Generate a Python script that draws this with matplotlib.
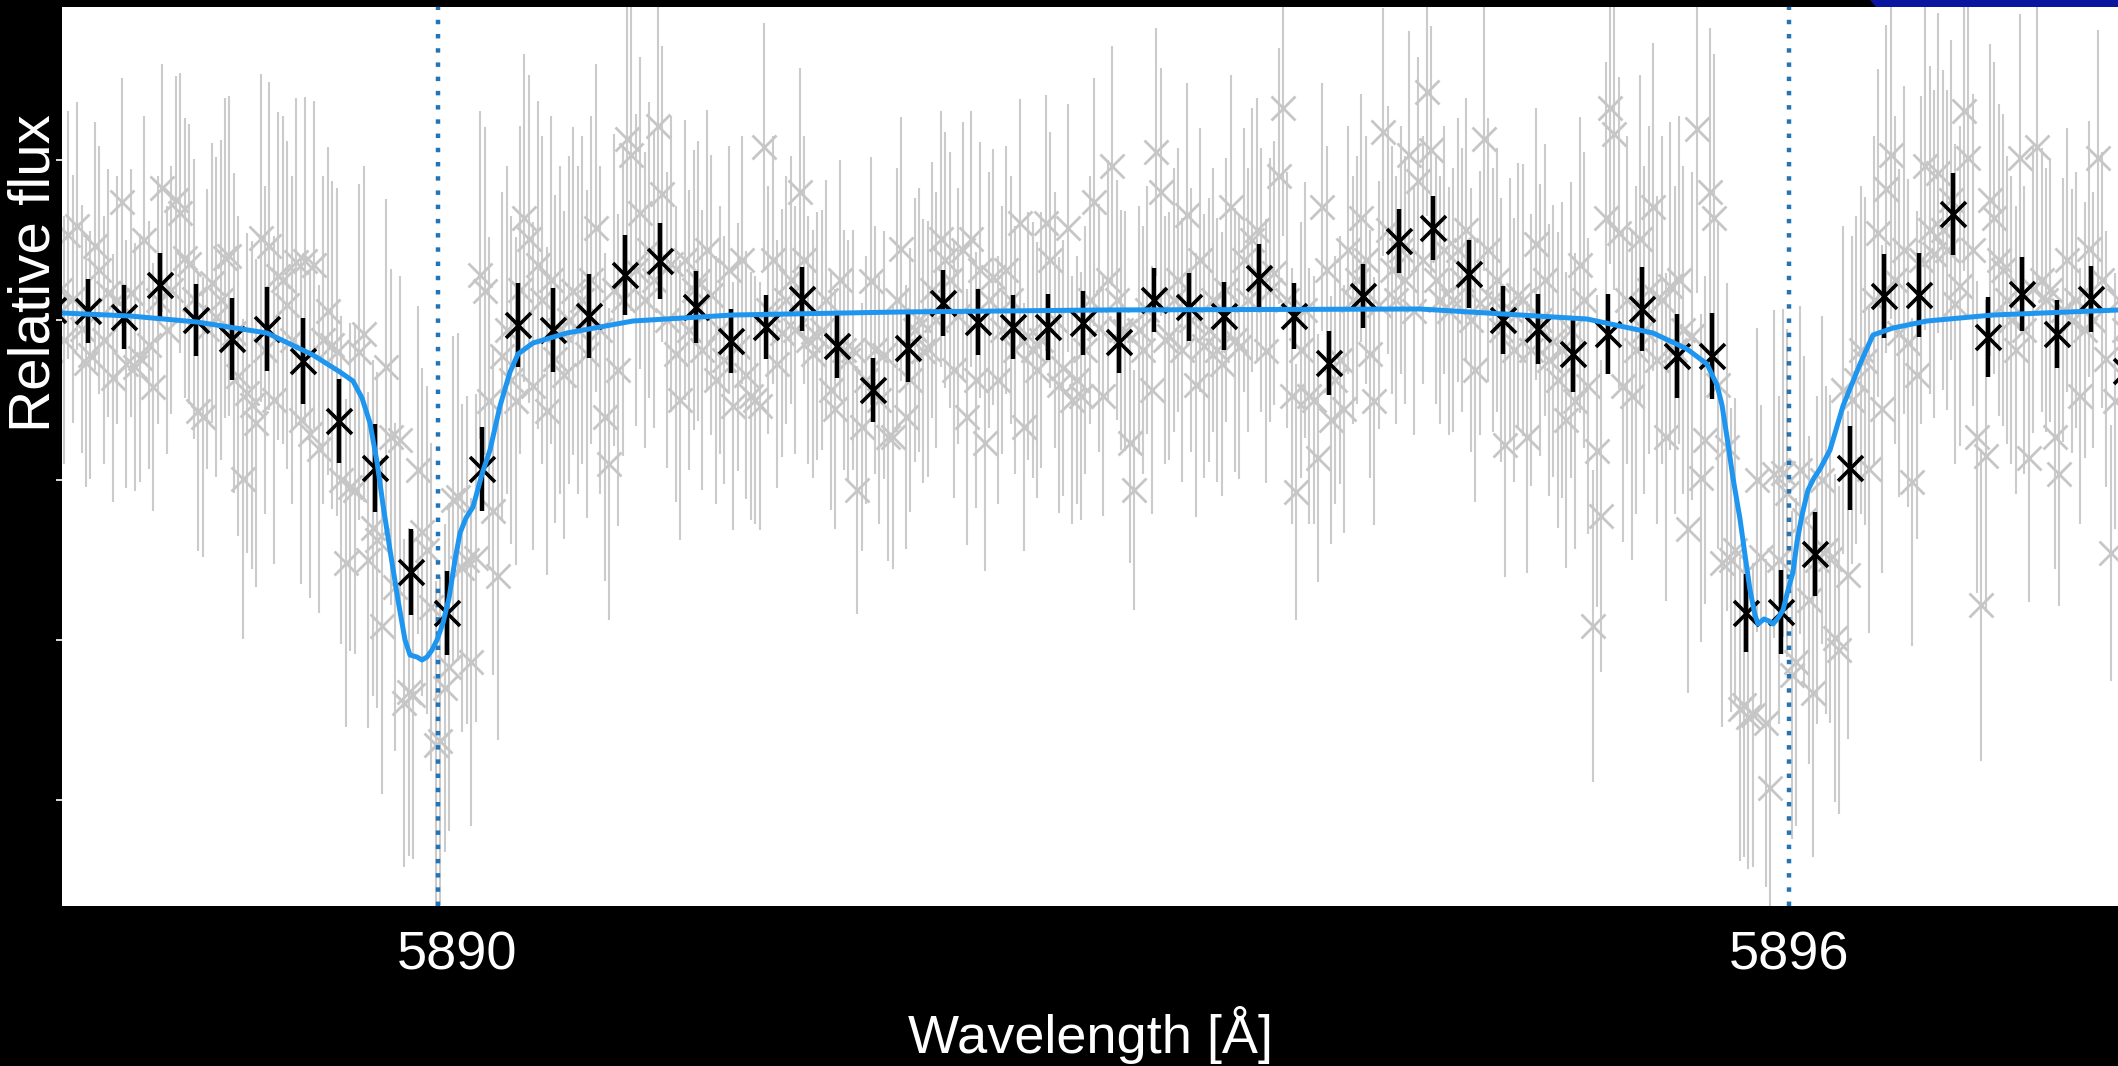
import numpy as np
import matplotlib
matplotlib.use("Agg")
import matplotlib.pyplot as plt
from matplotlib.patches import Polygon

plt.rcParams['font.family'] = ['Liberation Sans', 'DejaVu Sans']

# Binned transmission spectrum across the Na I D doublet
bin_wave = [5888.180, 5888.338, 5888.500, 5888.662, 5888.824, 5888.986, 5889.144, 5889.306, 5889.468, 5889.631,
            5889.793, 5889.955, 5890.113, 5890.275, 5890.432, 5890.595, 5890.757, 5890.914, 5891.077, 5891.234,
            5891.392, 5891.554, 5891.712, 5891.874, 5892.032, 5892.189, 5892.347, 5892.505, 5892.662, 5892.820,
            5892.982, 5893.140, 5893.297, 5893.455, 5893.613, 5893.770, 5893.928, 5894.081, 5894.243, 5894.396,
            5894.559, 5894.712, 5894.869, 5895.027, 5895.185, 5895.338, 5895.495, 5895.653, 5895.806, 5895.964,
            5896.117, 5896.275, 5896.428, 5896.586, 5896.739, 5896.896, 5897.050, 5897.207, 5897.360, 5897.518]
bin_flux = [1.000250, 1.000225, 1.000075, 1.000875, 1.000000, 0.999525, 0.999775, 0.998975, 0.997475, 0.996300,
            0.993700, 0.992675, 0.996275, 0.999875, 0.999750, 1.000100, 1.001125, 1.001475, 1.000325, 0.999475,
            0.999825, 1.000525, 0.999350, 0.998250, 0.999300, 1.000425, 0.999950, 0.999825, 0.999825, 0.999925,
            0.999450, 1.000500, 1.000325, 1.000100, 1.001050, 1.000100, 0.998925, 1.000600, 1.001975, 1.002300,
            1.001150, 1.000000, 0.999775, 0.999150, 0.999650, 1.000275, 0.999100, 0.999100, 0.992675, 0.992700,
            0.994150, 0.996300, 1.000600, 1.000625, 1.002650, 0.999575, 1.000650, 0.999650, 1.000525, 0.998725]
bin_err = [0.00081, 0.00081, 0.00081, 0.00081, 0.00091, 0.00103, 0.00105, 0.00108, 0.00106, 0.00110,
           0.00108, 0.00106, 0.00106, 0.00106, 0.00106, 0.00105, 0.00101, 0.00096, 0.00089, 0.00081,
           0.00081, 0.00081, 0.00079, 0.00081, 0.00084, 0.00083, 0.00083, 0.00081, 0.00083, 0.00081,
           0.00078, 0.00081, 0.00084, 0.00084, 0.00084, 0.00083, 0.00081, 0.00081, 0.00081, 0.00080,
           0.00084, 0.00085, 0.00088, 0.00096, 0.00101, 0.00105, 0.00105, 0.00108, 0.00098, 0.00106,
           0.00105, 0.00105, 0.00105, 0.00105, 0.00103, 0.00099, 0.00093, 0.00085, 0.00083, 0.00083]

# Unbinned samples, eight per bin, listed bin by bin in wavelength order
raw_flux = [
    [1.0005, 0.99975, 1.001, 0.99925, 1.00025, 1.00075, 0.9995, 1.002125],
    [1.000525, 1.00235, 0.999775, 0.998925, 0.999125, 1.00185, 1.00125, 0.9995],
    [1.000675, 0.99855, 1.0005, 1.00295, 0.9989, 1.000675, 0.998825, 0.99905],
    [1.002, 0.999375, 0.998325, 1.0005, 1.0033, 0.99975, 1.00075, 1.003],
    [1.002675, 1.00155, 1.0014, 1.000525, 0.997725, 0.997575, 0.999775, 1.000925],
    [1.000075, 1.0005, 1.00155, 1.0016, 0.999675, 0.9986, 0.996025, 0.998175],
    [0.997875, 0.997425, 1.00205, 0.99925, 1.00185, 0.998, 1.0011, 1.001],
    [1.000375, 0.9995, 1.00145, 0.9975, 1.001475, 0.99715, 1.001375, 0.996775],
    [0.9995, 1.000225, 0.999375, 0.9992, 0.996, 0.993925, 0.995825, 0.99575],
    [0.9992, 0.99965, 0.994, 0.9948, 0.9945, 0.99235, 0.998825, 0.997075],
    [0.993325, 0.997, 0.990425, 0.9907, 0.990625, 0.99625, 0.9947, 0.99425],
    [0.992825, 0.989375, 0.989475, 0.9908, 0.991325, 0.9955, 0.995575, 0.9938],
    [0.994, 0.99145, 0.99405, 1.001125, 1.000725, 0.997975, 0.995225, 0.9936],
    [0.9991, 0.99975, 0.9985, 0.997975, 1.00075, 1.00255, 1.002025, 0.99835],
    [1.001375, 1.0005, 0.997725, 1.001, 0.999025, 0.99975, 0.998625, 1.0],
    [1.000725, 0.99975, 1.0005, 0.99915, 1.001, 1.0023, 0.99975, 0.997575],
    [0.9964, 1.00075, 0.99875, 1.0005, 1.004525, 1.004125, 1.00125, 1.002675],
    [1.0005, 1.00175, 1.001, 1.00485, 1.00315, 1.0, 1.0014, 0.99915],
    [0.998, 1.0015, 0.99975, 1.00075, 1.000975, 0.99925, 1.00175, 1.000625],
    [0.9985, 0.99975, 0.999, 1.00125, 0.99785, 0.999325, 1.0015, 0.998625],
    [0.9981, 0.998, 0.99785, 1.004325, 1.00025, 1.0015, 0.9989, 0.999675],
    [1.0005, 1.001, 0.99975, 1.0032, 1.0015, 0.9995, 0.99915, 0.9996],
    [0.99975, 1.0005, 0.99825, 0.997775, 1.001, 0.99925, 0.999, 0.99925],
    [0.99575, 0.997325, 0.9985, 1.000975, 0.99925, 0.998, 0.999125, 0.997075],
    [0.997075, 1.0005, 1.001775, 0.997575, 0.9985, 0.99975, 1.0, 0.999225],
    [0.999275, 1.00075, 1.0, 1.002025, 1.0015, 1.001, 0.99875, 1.0001],
    [1.00175, 0.997575, 1.002025, 0.9985, 1.00125, 0.996925, 1.0005, 1.001075],
    [0.9985, 0.99975, 1.00125, 1.0005, 0.99925, 1.002425, 0.997325, 0.9996],
    [0.99925, 0.99875, 0.9995, 1.002425, 1.0015, 1.0, 0.998375, 0.9988],
    [1.0023, 0.998, 0.9985, 0.9981, 0.99925, 1.0005, 1.00295, 0.9998],
    [0.9981, 1.001, 1.00385, 1.0005, 0.99975, 0.999725, 0.996925, 0.99575],
    [0.99975, 0.99925, 1.00025, 0.99825, 1.0042, 1.0032, 0.9995, 0.9996],
    [1.0005, 1.001, 0.99925, 1.002625, 1.0, 0.998375, 1.0015, 0.99935],
    [0.99975, 1.0005, 0.99925, 0.9989, 1.00075, 1.002825, 0.9995, 0.999325],
    [1.0015, 1.0005, 1.002, 1.00225, 1.001, 0.999225, 1.00075, 1.001175],
    [1.0036, 1.0053, 1.0005, 0.9981, 0.9957, 0.99925, 1.00025, 0.9981],
    [0.998, 0.99655, 1.002825, 1.00125, 0.9975, 0.9985, 0.999, 0.997775],
    [1.00175, 1.0005, 1.001, 1.00255, 1.0015, 0.99915, 0.997975, 1.000375],
    [1.0047, 1.00225, 1.00125, 1.0005, 1.00175, 1.001, 1.004125, 1.000225],
    [1.003475, 1.0015, 1.0057, 1.00425, 1.001, 1.0005, 1.00175, 1.000225],
    [1.0005, 1.00175, 1.001, 1.00225, 1.0, 0.99875, 1.000425, 1.004525],
    [1.00175, 1.0005, 1.001, 0.99975, 0.996875, 1.00025, 0.99925, 1.000625],
    [1.0005, 0.997075, 0.99925, 1.0019, 1.0, 1.001, 0.999, 0.999475],
    [0.9985, 0.99925, 0.9975, 0.99975, 0.997975, 1.001375, 1.0005, 0.99835],
    [0.99235, 0.996725, 0.9951, 1.00255, 1.0053, 1.00465, 1.002175, 0.99835],
    [1.0005, 0.9981, 0.99925, 1.002025, 0.99975, 1.00075, 1.002825, 0.999],
    [1.0005, 0.997075, 1.00085, 0.99925, 1.001, 0.99975, 0.994775, 0.9996],
    [1.004775, 0.99605, 0.997, 1.0032, 1.00255, 0.998375, 0.993925, 0.996825],
    [0.994, 0.99425, 0.990275, 0.990375, 0.990075, 0.990125, 0.996, 0.994075],
    [0.989925, 0.9883, 0.99615, 0.994, 0.996175, 0.995675, 0.991125, 0.99145],
    [0.99625, 0.995, 0.993, 0.990675, 0.994, 0.996, 0.99425, 0.994025],
    [0.99205, 0.99175, 0.99825, 0.993625, 0.998, 0.9985, 0.99925, 0.998975],
    [0.996275, 1.0005, 1.002175, 0.997775, 1.003275, 1.004125, 1.001, 0.999675],
    [1.00175, 0.999425, 0.99595, 0.998625, 1.0015, 1.00385, 1.00225, 1.00165],
    [1.003675, 1.00225, 1.00175, 1.003, 1.0004, 1.00085, 1.005225, 1.00405],
    [1.00175, 0.997075, 0.992875, 0.9966, 1.003, 1.00255, 1.0015, 1.00125],
    [1.0005, 1.0, 0.99925, 1.00405, 0.99975, 0.99655, 1.000775, 1.004325],
    [1.001, 1.0005, 1.00075, 0.997075, 0.99615, 1.00025, 1.0015, 0.999975],
    [1.0005, 0.9981, 0.99975, 1.001775, 1.0, 1.00405, 1.001, 0.999025],
    [0.994175, 0.997975, 1.0005, 0.99975, 0.99925, 1.0, 0.999, 0.99915],
]
raw_err = [0.0031, 0.0031, 0.0031, 0.0031, 0.0035, 0.0040, 0.0041, 0.0041, 0.0041, 0.0042,
           0.0041, 0.0041, 0.0041, 0.0041, 0.0041, 0.0041, 0.0039, 0.0037, 0.0035, 0.0031,
           0.0031, 0.0031, 0.0030, 0.0031, 0.0033, 0.0032, 0.0032, 0.0031, 0.0032, 0.0031,
           0.0030, 0.0031, 0.0033, 0.0033, 0.0033, 0.0032, 0.0031, 0.0031, 0.0031, 0.0031,
           0.0033, 0.0033, 0.0034, 0.0037, 0.0039, 0.0041, 0.0041, 0.0041, 0.0038, 0.0041,
           0.0041, 0.0041, 0.0041, 0.0041, 0.0040, 0.0039, 0.0036, 0.0033, 0.0032, 0.0032]

# Best-fit model spectrum
model_wave = [5888.2207, 5888.5270, 5888.8288, 5889.1441, 5889.3514, 5889.4730, 5889.5315, 5889.5721,
              5889.6081, 5889.6396, 5889.6667, 5889.6982, 5889.7342, 5889.7658, 5889.7883, 5889.8198,
              5889.8423, 5889.8649, 5889.8874, 5889.9099, 5889.9369, 5889.9640, 5889.9910, 5890.0135,
              5890.0405, 5890.0721, 5890.1126, 5890.1486, 5890.1937, 5890.2387, 5890.2748, 5890.3423,
              5890.4955, 5890.7928, 5891.2432, 5891.9955, 5892.8964, 5894.3378, 5895.0901, 5895.3874,
              5895.5405, 5895.6306, 5895.6757, 5895.6982, 5895.7207, 5895.7477, 5895.7793, 5895.8018,
              5895.8243, 5895.8468, 5895.8604, 5895.8874, 5895.9099, 5895.9279, 5895.9505, 5895.9730,
              5895.9910, 5896.0180, 5896.0360, 5896.0586, 5896.0856, 5896.1126, 5896.1396, 5896.1847,
              5896.2432, 5896.3198, 5896.3784, 5896.4685, 5896.6216, 5896.9189, 5897.4820]
model_flux = [1.000175, 1.0001, 0.99995, 0.999675, 0.999125, 0.9987, 0.998475, 0.99805,
              0.997425, 0.99645, 0.995375, 0.99425, 0.993, 0.992, 0.991625, 0.991575,
              0.9915, 0.991575, 0.99175, 0.992, 0.992425, 0.99305, 0.994, 0.994675,
              0.99505, 0.995325, 0.99615, 0.99675, 0.99785, 0.9987, 0.99915, 0.999425,
              0.999675, 0.999975, 1.000125, 1.0002, 1.00025, 1.000275, 1.000025, 0.999675,
              0.999275, 0.9989, 0.998375, 0.997875, 0.997075, 0.99605, 0.995025, 0.994125,
              0.99325, 0.992625, 0.9924, 0.992525, 0.992475, 0.9924, 0.99255, 0.99275,
              0.99315, 0.9937, 0.99445, 0.995125, 0.99575, 0.99605, 0.996275, 0.99675,
              0.99785, 0.9989, 0.999625, 0.9998, 0.999975, 1.000125, 1.00025]

na_lines = [5889.914, 5896.000]
xtick_values = [5890, 5896]
xtick_labels = ["5890", "5896"]
ytick_values = [0.988, 0.992, 0.996, 1.000, 1.004]

# Spread each bin's samples evenly across the bin
bw = np.asarray(bin_wave)
mid = 0.5 * (bw[1:] + bw[:-1])
edges = np.concatenate([[bw[0] - (mid[0] - bw[0])], mid, [bw[-1] + (bw[-1] - mid[-1])]])
n_sub = len(raw_flux[0])
raw_wave = np.concatenate([lo + (np.arange(n_sub) + 0.5) * (hi - lo) / n_sub
                           for lo, hi in zip(edges[:-1], edges[1:])])
raw_f = np.concatenate([np.asarray(r) for r in raw_flux])
raw_e = np.repeat(raw_err, n_sub)

W, H = 2118, 1066
fig = plt.figure(figsize=(W / 100, H / 100), dpi=100, facecolor='black')
ax = fig.add_axes([62 / W, 1 - 906 / H, (W - 62) / W, (906 - 7) / H])
ax.set_facecolor('white')

ax.errorbar(raw_wave, raw_f, yerr=raw_e, fmt='x', color='#c6c6c6', ecolor='#cbcbcb',
            ms=17, mew=2.0, elinewidth=1.5, capsize=0, zorder=1)
for w in na_lines:
    ax.axvline(w, color='#2274b5', lw=3.2, linestyle=(0, (1.0, 2.2)), zorder=1.5)
ax.errorbar(bin_wave, bin_flux, yerr=bin_err, fmt='x', color='black', ecolor='black',
            ms=18, mew=2.6, elinewidth=3.2, capsize=0, zorder=2)
ax.plot(model_wave, model_flux, color='#1e96f0', lw=3.6, zorder=3,
        solid_capstyle='round', solid_joinstyle='round')

ax.set_xlim(5888.2207, 5897.4820)
ax.set_ylim(0.985350, 1.007825)

ax.set_xticks(xtick_values, xtick_labels)
ax.tick_params(axis='x', length=0, pad=18, labelsize=39, labelcolor='white')
ax.set_yticks(ytick_values)
ax.tick_params(axis='y', direction='out', length=4, width=1.2, color='white', labelleft=False)
for s in ax.spines.values():
    s.set_visible(False)

ax.set_xlabel('Wavelength [Å]', fontsize=39, color='white')
ax.xaxis.set_label_coords(0.5, (906 - 1053) / 899)
ax.xaxis.label.set_verticalalignment('baseline')

ax.set_ylabel('Relative flux', fontsize=42, color='white')
ax.yaxis.set_label_coords((50 - 62) / 2056, (906 - 273.5) / 899)
ax.yaxis.label.set_verticalalignment('baseline')

band = Polygon([[1870 / W, 1.0], [1.0, 1.0], [1.0, 1 - 7 / H], [1876 / W, 1 - 7 / H]],
               closed=True, transform=fig.transFigure, facecolor='#0a16a0', edgecolor='none')
fig.patches.append(band)

fig.savefig('out.png', dpi=100, facecolor='black')
